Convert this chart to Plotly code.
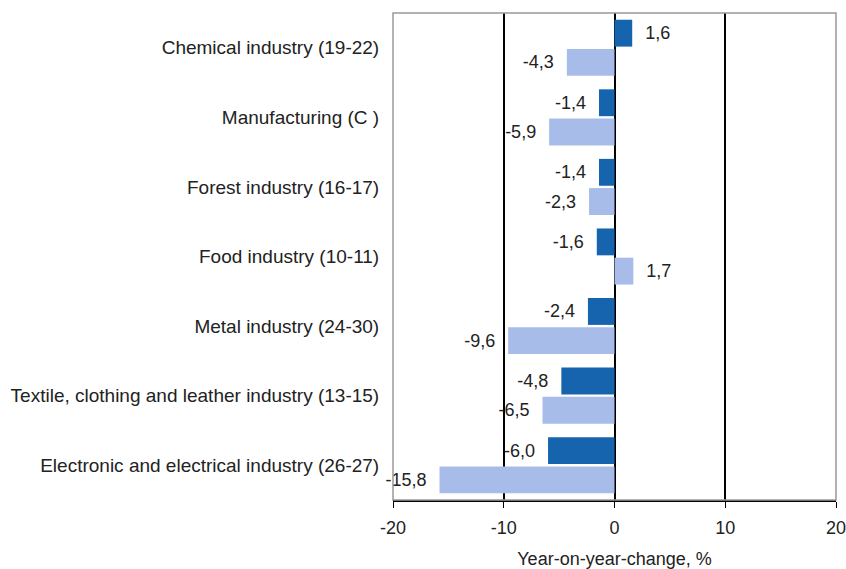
import plotly.graph_objects as go

categories = [
    "Chemical industry (19-22)",
    "Manufacturing (C )",
    "Forest industry (16-17)",
    "Food industry (10-11)",
    "Metal industry (24-30)",
    "Textile, clothing and leather industry (13-15)",
    "Electronic and electrical industry (26-27)",
]
series_dark = [1.6, -1.4, -1.4, -1.6, -2.4, -4.8, -6.0]
series_light = [-4.3, -5.9, -2.3, 1.7, -9.6, -6.5, -15.8]
x_ticks = [-20, -10, 0, 10, 20]

PAD = "\u00a0\u00a0"

def fmt(v):
    s = f"{v:.1f}".replace(".", ",")
    return s + PAD if v < 0 else PAD + s

FONT = "Liberation Sans, Arial, sans-serif"
FS = 18
fig = go.Figure()
for vals, color in [(series_dark, "#1764ae"), (series_light, "#a7bce9")]:
    fig.add_trace(go.Bar(
        y=categories, x=vals, orientation="h",
        marker=dict(color=color, line=dict(width=0)),
        text=[fmt(v) for v in vals], textposition="outside",
        textfont=dict(size=FS, color="#222222", family=FONT),
        cliponaxis=False, showlegend=False,
    ))

fig.update_layout(
    width=846, height=569,
    margin=dict(l=393, r=10, t=13, b=69),
    paper_bgcolor="white", plot_bgcolor="white",
    barmode="group", bargap=0.16, bargroupgap=0.08,
    font=dict(family=FONT, size=FS, color="#222222"),
    xaxis=dict(
        range=[-20, 20], tickvals=x_ticks, ticktext=[str(t) for t in x_ticks],
        showgrid=True, gridcolor="black", gridwidth=1.5, zeroline=False,
        showline=True, linecolor="black", linewidth=1.5,
        ticks="outside", ticklen=6, tickcolor="black",
        ticklabelstandoff=5, ticklabeloverflow="allow", automargin=False,
        tickfont=dict(size=FS),
        title=dict(text="Year-on-year-change, %", font=dict(size=FS), standoff=16),
    ),
    yaxis=dict(
        autorange="reversed", showgrid=False, zeroline=False, automargin=False,
        ticks="outside", ticklen=9, tickcolor="rgba(0,0,0,0)",
        tickfont=dict(size=19),
    ),
    shapes=[dict(type="rect", xref="paper", yref="paper", x0=0, x1=1, y0=0, y1=1,
                 line=dict(color="#999999", width=1.5), layer="above")],
)
fig.write_html("out.html", config={"displayModeBar": False})
with open("out.html", "r", encoding="utf-8") as f:
    html = f.read()
html = html.replace("<head>", "<head><style>html,body{margin:0;padding:0;overflow:hidden}</style>", 1)
with open("out.html", "w", encoding="utf-8") as f:
    f.write(html)
